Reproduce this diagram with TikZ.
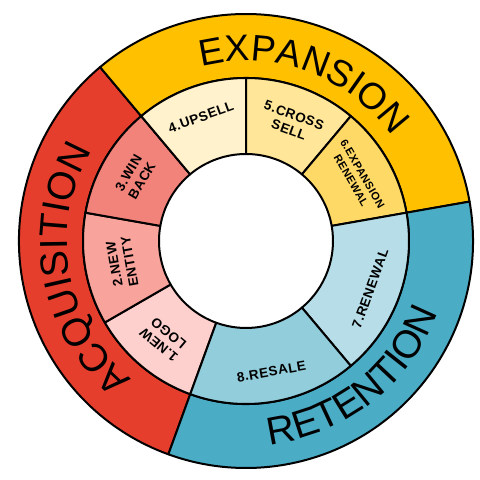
\documentclass[tikz,border=0pt]{standalone}
\usepackage{fontspec}
\setmainfont{Liberation Sans}
\usepackage{tikz}
\usetikzlibrary{decorations.text}
\definecolor{clrAcq}{HTML}{E63E2D}
\definecolor{clrExp}{HTML}{FFC000}
\definecolor{clrRet}{HTML}{4BACC6}
\definecolor{clrWinBack}{HTML}{F2837A}
\definecolor{clrNewEntity}{HTML}{F8A39C}
\definecolor{clrNewLogo}{HTML}{FDD0CD}
\definecolor{clrUpsell}{HTML}{FFF2CC}
\definecolor{clrCross}{HTML}{FFE699}
\definecolor{clrExpRen}{HTML}{FFD966}
\definecolor{clrRenewal}{HTML}{B7DEE8}
\definecolor{clrResale}{HTML}{92CDDC}
\newcommand{\bandfont}{\fontsize{37}{37}\selectfont}
\newcommand{\bandfontbig}{\fontsize{39}{39}\selectfont}
\newcommand{\segfont}{\fontsize{13.5}{15.5}\selectfont\bfseries\addfontfeature{LetterSpace=4}}
\newcommand{\segfontsmall}{\fontsize{11}{13}\selectfont\bfseries\addfontfeature{LetterSpace=4}}
\tikzstyle{wedge}=[draw=black, line width=2pt, line join=round]
\tikzstyle{seglabel}=[font=\segfont, align=center, inner sep=0pt]
\tikzstyle{bandtext}=[decorate, decoration={text along path, text align=center}]

\begin{document}
\begin{tikzpicture}[x=1pt, y=1pt]
		\useasboundingbox (0,0) rectangle (480,480);

		\begin{scope}[shift={(246,239)}]
			% outer bands
			\filldraw[wedge, fill=clrAcq] (130:163) arc (130:250:163) -- (250:227) arc (250:130:227) -- cycle;
			\filldraw[wedge, fill=clrExp] (10:163) arc (10:130:163) -- (130:227) arc (130:10:227) -- cycle;
			\filldraw[wedge, fill=clrRet] (250:163) arc (250:370:163) -- (370:227) arc (370:250:227) -- cycle;

			% inner segments
			\filldraw[wedge, fill=clrNewLogo] (210:87) arc (210:250:87) -- (250:163) arc (250:210:163) -- cycle;
			\filldraw[wedge, fill=clrNewEntity] (170:87) arc (170:210:87) -- (210:163) arc (210:170:163) -- cycle;
			\filldraw[wedge, fill=clrWinBack] (130:87) arc (130:170:87) -- (170:163) arc (170:130:163) -- cycle;
			\filldraw[wedge, fill=clrUpsell] (90:87) arc (90:130:87) -- (130:163) arc (130:90:163) -- cycle;
			\filldraw[wedge, fill=clrCross] (50:87) arc (50:90:87) -- (90:163) arc (90:50:163) -- cycle;
			\filldraw[wedge, fill=clrExpRen] (10:87) arc (10:50:87) -- (50:163) arc (50:10:163) -- cycle;
			\filldraw[wedge, fill=clrRenewal] (310:87) arc (310:370:87) -- (370:163) arc (370:310:163) -- cycle;
			\filldraw[wedge, fill=clrResale] (250:87) arc (250:310:87) -- (310:163) arc (310:250:163) -- cycle;

			% band titles
			\path[bandtext, decoration={text={|\bandfontbig|ACQUISITION}}] (250:179) arc (250:130:179);
			\path[bandtext, decoration={text={|\bandfont|EXPANSION}}] (130:180) arc (130:10:180);
			\path[bandtext, decoration={text={|\bandfontbig|RETENTION}}] (248:205) arc (248:368:205);

			% segment labels
			\node[seglabel, rotate=140] (newlogo) at (230:128) {1.NEW\\LOGO};
			\node[seglabel, rotate=100] (newentity) at (190:126) {2.NEW\\ENTITY};
			\node[seglabel, rotate=60] (winback) at (150:128) {3.WIN\\BACK};
			\node[seglabel, rotate=20] (upsell) at (110:132) {4.UPSELL};
			\node[seglabel, rotate=-20] (crosssell) at (69:127) {5.CROSS\\SELL};
			\node[seglabel, font=\segfontsmall, rotate=-60] (exprenewal) at (30:128) {6.EXPANSION\\RENEWAL};
			\node[seglabel, rotate=70] (renewal) at (339:133) {7.RENEWAL};
			\node[seglabel, rotate=10] (resale) at (281:133) {8.RESALE};
		\end{scope}

	\end{tikzpicture}
\end{document}
